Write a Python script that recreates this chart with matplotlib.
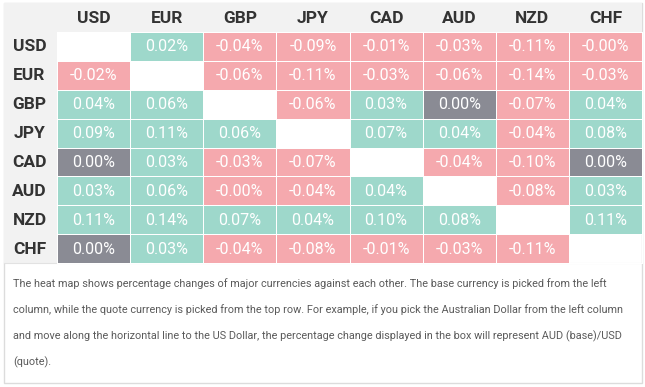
import matplotlib
matplotlib.use('Agg')
import matplotlib.pyplot as plt
import numpy as np
from matplotlib.colors import ListedColormap
from matplotlib.patches import Rectangle

plt.rcParams['font.family'] = ['Roboto', 'DejaVu Sans']

# 数据: 行 = 基础货币, 列 = 报价货币 (百分比变化)
currencies = ['USD', 'EUR', 'GBP', 'JPY', 'CAD', 'AUD', 'NZD', 'CHF']
nan = np.nan
usd = [nan, 0.02, -0.04, -0.09, -0.01, -0.03, -0.11, -0.00]
eur = [-0.02, nan, -0.06, -0.11, -0.03, -0.06, -0.14, -0.03]
gbp = [0.04, 0.06, nan, -0.06, 0.03, 0.00, -0.07, 0.04]
jpy = [0.09, 0.11, 0.06, nan, 0.07, 0.04, -0.04, 0.08]
cad = [0.00, 0.03, -0.03, -0.07, nan, -0.04, -0.10, 0.00]
aud = [0.03, 0.06, -0.00, -0.04, 0.04, nan, -0.08, 0.03]
nzd = [0.11, 0.14, 0.07, 0.04, 0.10, 0.08, nan, 0.11]
chf = [0.00, 0.03, -0.04, -0.08, -0.01, -0.03, -0.11, nan]
values = np.array([usd, eur, gbp, jpy, cad, aud, nzd, chf])

note_lines = [
    'The heat map shows percentage changes of major currencies against each other. The base currency is picked from the left',
    'column, while the quote currency is picked from the top row. For example, if you pick the Australian Dollar from the left column',
    'and move along the horizontal line to the US Dollar, the percentage change displayed in the box will represent AUD (base)/USD',
    '(quote).',
]

PINK, GRAY, GREEN = '#f5a9ae', '#8a8b94', '#9ed8cb'
HEAD_BG = '#f2f2f2'

# ============================================================
# 画布 (像素坐标)
# ============================================================
fig = plt.figure(figsize=(6.45, 3.87), dpi=100)
ax = fig.add_axes([0, 0, 1, 1])
ax.set_xlim(0, 645)
ax.set_ylim(387, 0)
ax.axis('off')

left, label_w, right = 4, 53, 642
top, head_h, table_bottom, bottom = 3, 29, 263, 383
n = len(currencies)
x_edges = np.linspace(left + label_w, right, n + 1)
y_edges = np.linspace(top + head_h, table_bottom, n + 1)
x_mid = (x_edges[:-1] + x_edges[1:]) / 2
y_mid = (y_edges[:-1] + y_edges[1:]) / 2

# 外框与表头背景
ax.add_patch(Rectangle((left, top), right - left, bottom - top, facecolor='white',
                       edgecolor='#dcdcdc', linewidth=1, zorder=0))
ax.add_patch(Rectangle((left, top), right - left, head_h, facecolor=HEAD_BG,
                       edgecolor='none', zorder=1))
ax.add_patch(Rectangle((left, top + head_h), label_w, table_bottom - top - head_h,
                       facecolor=HEAD_BG, edgecolor='none', zorder=1))
ax.plot([left, right], [table_bottom, table_bottom], color='#e2e2e2', lw=0.8, zorder=1)

# ============================================================
# 热力格子: 0 = 负, 1 = 零, 2 = 正
# ============================================================
cat = np.where(values > 0, 2, np.where(np.signbit(values), 0, 1)).astype(float)
cat = np.ma.masked_invalid(np.where(np.isnan(values), np.nan, cat))
ax.pcolormesh(x_edges, y_edges, cat, cmap=ListedColormap([PINK, GRAY, GREEN]),
              vmin=-0.5, vmax=2.5, edgecolors='white', linewidth=0.6, zorder=2)

for i in range(n):
    for j in range(n):
        v = values[i, j]
        if np.isnan(v):
            continue
        ax.text(x_mid[j], y_mid[i] + 0.5, f'{v:.2f}%', ha='center', va='center',
                fontsize=11.5, color='white', zorder=3)

# 表头文字
for k, c in enumerate(currencies):
    ax.text(x_mid[k], top + head_h / 2 + 1, c, ha='center', va='center',
            fontsize=12.5, fontweight='bold', color='#333333', zorder=3)
    ax.text(left + label_w / 2 - 1, y_mid[k] + 0.5, c, ha='center', va='center',
            fontsize=12.5, fontweight='bold', color='#333333', zorder=3)

# ============================================================
# 说明文字
# ============================================================
for k, line in enumerate(note_lines):
    ax.text(13, 284 + 26 * k, line, ha='left', va='center', fontsize=7.8,
            color='#5a5a5a', zorder=3)

fig.savefig('out.png', dpi=100, facecolor='white')
plt.close()
